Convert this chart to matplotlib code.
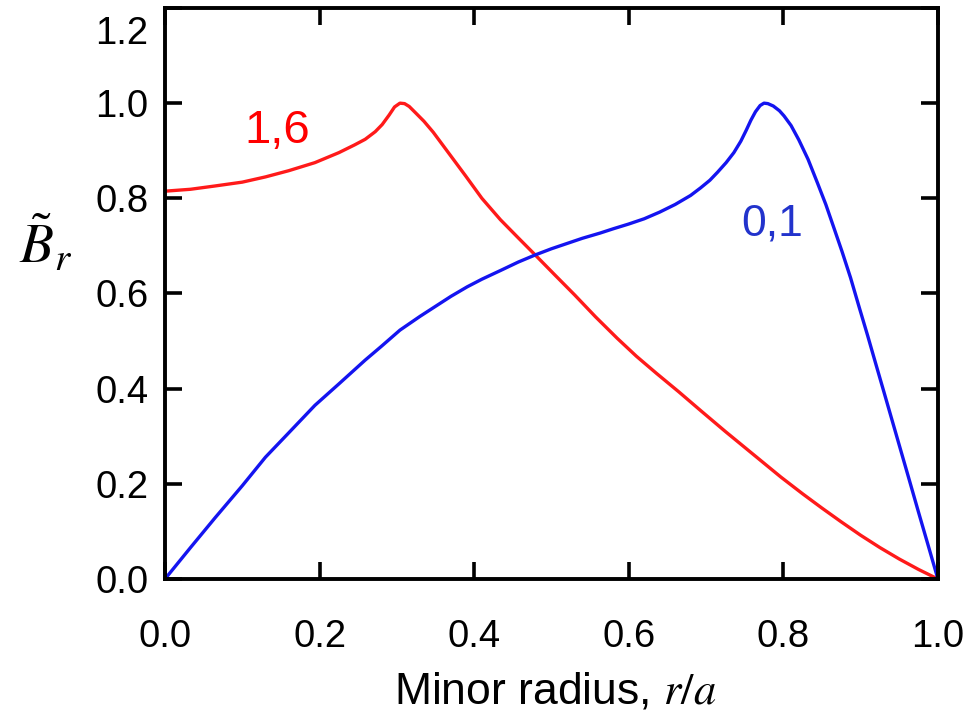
import numpy as np
import matplotlib
matplotlib.use("Agg")
import matplotlib.pyplot as plt
from matplotlib.transforms import ScaledTranslation

plt.rcParams['font.family'] = ['Liberation Sans', 'DejaVu Sans']
plt.rcParams['mathtext.fontset'] = 'stix'

# mode (1,6)
r_16 = [0.0, 0.033, 0.065, 0.1, 0.13, 0.16, 0.194, 0.225, 0.245, 0.259, 0.272,
        0.281, 0.29, 0.297, 0.304, 0.31, 0.316, 0.324, 0.335, 0.347, 0.368, 0.389,
        0.41, 0.434, 0.457, 0.479, 0.505, 0.53, 0.557, 0.585, 0.61, 0.636, 0.665,
        0.693, 0.725, 0.758, 0.797, 0.825, 0.85, 0.875, 0.9, 0.925, 0.95, 0.975, 1.0]
b_16 = [0.815, 0.819, 0.826, 0.834, 0.845, 0.858, 0.875, 0.896, 0.912, 0.924, 0.94,
        0.955, 0.975, 0.992, 1.0, 0.999, 0.993, 0.98, 0.962, 0.939, 0.893, 0.847,
        0.80, 0.755, 0.717, 0.681, 0.638, 0.597, 0.551, 0.506, 0.468, 0.432, 0.393,
        0.354, 0.31, 0.266, 0.214, 0.179, 0.149, 0.12, 0.092, 0.066, 0.042, 0.02, 0.0]

# mode (0,1)
r_01 = [0.0, 0.033, 0.065, 0.1, 0.13, 0.16, 0.194, 0.225, 0.259, 0.28, 0.304, 0.33,
        0.35, 0.37, 0.391, 0.41, 0.435, 0.457, 0.479, 0.5, 0.52, 0.54, 0.563, 0.58,
        0.6, 0.62, 0.64, 0.66, 0.68, 0.693, 0.705, 0.715, 0.726, 0.736, 0.745, 0.752,
        0.758, 0.764, 0.77, 0.775, 0.78, 0.787, 0.795, 0.801, 0.81, 0.82, 0.832,
        0.844, 0.855, 0.865, 0.876, 0.887, 0.898, 0.909, 0.92, 0.93, 0.941, 0.952,
        0.963, 0.975, 0.987, 1.0]
b_01 = [0.0, 0.066, 0.129, 0.196, 0.256, 0.307, 0.365, 0.41, 0.46, 0.489, 0.523, 0.552,
        0.573, 0.594, 0.614, 0.63, 0.649, 0.666, 0.681, 0.694, 0.705, 0.716, 0.727, 0.736,
        0.746, 0.757, 0.771, 0.787, 0.806, 0.822, 0.838, 0.855, 0.875, 0.896, 0.92, 0.943,
        0.964, 0.982, 0.995, 1.0, 0.999, 0.994, 0.984, 0.973, 0.953, 0.923, 0.882,
        0.833, 0.787, 0.74, 0.688, 0.633, 0.572, 0.512, 0.45, 0.394, 0.332, 0.27,
        0.208, 0.14, 0.073, 0.0]

xticks = [0.0, 0.2, 0.4, 0.6, 0.8, 1.0]
yticks = [0.0, 0.2, 0.4, 0.6, 0.8, 1.0, 1.2]

fig = plt.figure(figsize=(9.78, 7.12), dpi=100)
ax = fig.add_axes([0.1687, 0.1868, 0.7903, 0.8020])

ax.plot(r_16, b_16, color='#ff1a1a', lw=2.4, solid_joinstyle='round')
ax.plot(r_01, b_01, color='#1414f0', lw=2.4, solid_joinstyle='round')

ax.text(0.145, 0.941, '1,6', color='#ff0000', fontsize=34, ha='center', va='center')
ax.text(0.786, 0.745, '0,1', color='#2233cc', fontsize=32, ha='center', va='center')

ax.set_xlim(0, 1.0)
ax.set_ylim(0, 1.2)
ax.set_xticks(xticks)
ax.set_yticks(yticks)
ax.set_xticklabels(['%.1f' % v for v in xticks])
ax.set_yticklabels(['%.1f' % v for v in yticks])
ax.tick_params(direction='in', length=12, width=2.6, top=True, right=True,
               labelsize=27.5, colors='black')
ax.tick_params(axis='x', pad=29)
ax.tick_params(axis='y', pad=12)
for s in ax.spines.values():
    s.set_linewidth(2.8)

ax.set_xlabel('Minor radius, $r/a$', fontsize=32, va='center')
ax.xaxis.set_label_coords(0.505, -0.198)
ax.set_ylabel(r'$\tilde{B}_r$', fontsize=40, rotation=0, ha='center', va='center')
ax.yaxis.set_label_coords(-0.155, 0.585)

fig.canvas.draw()
top_lab = ax.get_yticklabels()[-1]
top_lab.set_transform(top_lab.get_transform() + ScaledTranslation(0, -0.22, fig.dpi_scale_trans))

fig.savefig('out.png', dpi=100, facecolor='white')
